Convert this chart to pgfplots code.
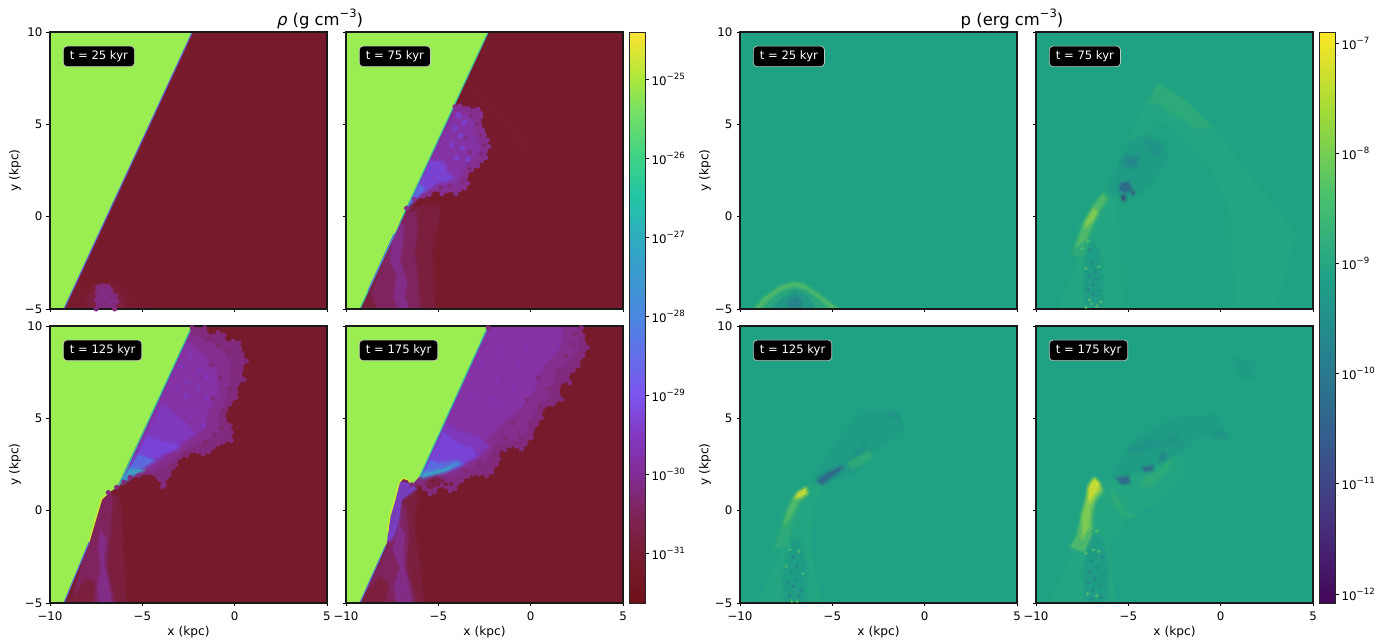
\documentclass[border=0pt]{standalone}
\usepackage{fontspec}
\setmainfont{DejaVu Sans}
\usepackage{pgfplots}
\pgfplotsset{compat=1.18}
\definecolor{rbg}{RGB}{119,27,44}
\definecolor{grn}{RGB}{154,238,82}
\definecolor{rf0}{RGB}{122,28,48}
\definecolor{rf1}{RGB}{125,32,66}
\definecolor{rf2}{RGB}{128,38,100}
\definecolor{pf}{RGB}{130,42,125}
\definecolor{pm}{RGB}{133,47,145}
\definecolor{pb}{RGB}{132,52,170}
\definecolor{vm}{RGB}{127,58,192}
\definecolor{vi}{RGB}{120,70,220}
\definecolor{bl}{RGB}{85,115,225}
\definecolor{te}{RGB}{50,190,170}
\definecolor{tb}{RGB}{58,165,195}
\definecolor{ye}{RGB}{205,235,50}
\definecolor{prb}{RGB}{31,162,131}
\definecolor{p1}{RGB}{35,165,129}
\definecolor{p2}{RGB}{48,172,120}
\definecolor{p3}{RGB}{85,188,105}
\definecolor{p4}{RGB}{135,205,80}
\definecolor{p5}{RGB}{210,222,50}
\definecolor{c0}{RGB}{31,156,133}
\definecolor{c1}{RGB}{32,148,136}
\definecolor{c2}{RGB}{38,130,140}
\definecolor{c3}{RGB}{50,100,140}
\definecolor{c4}{RGB}{62,60,125}
\pgfplotsset{
 colormap={rhomap}{rgb255(0pt)=(112,16,26) rgb255(40pt)=(118,27,44) rgb255(83pt)=(125,35,80) rgb255(129pt)=(130,45,150) rgb255(166pt)=(130,55,190) rgb255(208pt)=(125,85,240) rgb255(287pt)=(75,135,225) rgb255(366pt)=(45,172,190) rgb255(406pt)=(35,197,165) rgb255(445pt)=(60,210,135) rgb255(493pt)=(120,225,100) rgb255(524pt)=(172,232,60) rgb255(560pt)=(235,228,50) rgb255(571pt)=(253,226,55)},
 colormap={pmap}{rgb255=(68,6,88) rgb255=(70,50,126) rgb255=(54,92,141) rgb255=(39,127,142) rgb255=(31,161,135) rgb255=(74,193,109) rgb255=(160,218,57) rgb255=(253,231,37)},
 every tick/.style={black,line width=.8pt},
 basestyle/.style={scale only axis,anchor=south west,axis on top=true,axis line style={line width=1.1pt,color=black!90},
   tick align=outside,major tick length=3.5pt,
   ticklabel style={font=\fontsize{11.8}{13}\selectfont,inner sep=1.5pt},
   label style={font=\fontsize{12.2}{14}\selectfont}},
 panel/.style={basestyle,width=277pt,height=277pt,xmin=-10,xmax=5,ymin=-5,ymax=10,
   xtick={-10,-5,0,5},ytick={-5,0,5,10},xtick pos=bottom,ytick pos=left,enlargelimits=false,clip=true,
   xticklabel style={yshift=-3.5pt},yticklabel style={xshift=-2.5pt}},
 xl/.style={xticklabels={−10,−5,0,5},xlabel={x (kpc)},xlabel style={yshift=-1pt}},
 xn/.style={xticklabels={}},
 yl/.style={yticklabels={−5,0,5,10},ylabel={y (kpc)},ylabel style={yshift=-1pt}},
 yn/.style={yticklabels={}},
 cbarx/.style={basestyle,width=16pt,height=571pt,xmin=0,xmax=1,xtick=\empty,ytick pos=right,yticklabel pos=right,yminorticks=false,enlargelimits=false,yticklabel style={xshift=1.5pt},axis line style={line width=.8pt,color=black!85}},
}
\newcommand{\poly}[2]{\addplot[fill=#1,draw=#1,draw opacity=.45,line width=.8pt,forget plot] coordinates {#2} --cycle;}
\newcommand{\spoly}[2]{\addplot[draw=#1,draw opacity=.16,line width=6pt,line join=round,forget plot] coordinates {#2} --cycle;
 \addplot[draw=#1,draw opacity=.26,line width=3pt,fill=#1,fill opacity=.8,line join=round,forget plot] coordinates {#2} --cycle;}
\newcommand{\bpoly}[2]{\addplot[fill=#1,draw=#1,line width=.8pt,mark=*,mark size=2.1pt,mark options={fill=#1,draw=none},forget plot] coordinates {#2} --cycle;}
\newcommand{\specks}[4]{\addplot[only marks,mark=*,mark size=#2pt,color=#1,mark options={fill=#1,draw=#1,line width=0pt},opacity=#3,forget plot] coordinates {#4};}
\newcommand{\edge}[3]{\addplot[color=#1,line width=#2,forget plot,line join=round] coordinates {#3};}
\newcommand{\tagbox}[1]{\node[fill=black,draw=white!78!black,line width=.7pt,rounded corners=3.5pt,text=white,font=\fontsize{11.6}{13}\selectfont,anchor=west,inner xsep=6.5pt,inner ysep=0pt,minimum height=20.5pt] at (rel axis cs:0.047,0.912) {t = #1 kyr};}
\newcommand{\tp}[1]{10\raisebox{.5em}{\fontsize{8.6}{10}\selectfont −#1}}
\begin{document}
\begin{tikzpicture}
\path[use as bounding box] (0,0) rectangle (1390pt,642pt);
% ---------- density, t = 25
\begin{axis}[panel,xn,yl,at={(50pt,333pt)},axis background/.style={fill=rbg}]
\spoly{rf0}{(-9.2,-5)(-8.5,-4.1)(-7.6,-3.6)(-7,-3.5)(-6.3,-3.6)(-5.4,-4.2)(-4.4,-5)}
\spoly{rf1}{(-8.0,-5)(-7.9,-4.2)(-7.5,-3.8)(-6.7,-3.75)(-6.3,-4.1)(-6.0,-4.6)(-6.0,-5)}
\bpoly{pf}{(-7.5,-5)(-7.5,-4.5)(-7.45,-4.13)(-7.42,-3.85)(-7.3,-3.78)(-7.1,-3.75)(-6.95,-3.8)(-6.85,-3.78)(-6.72,-3.95)(-6.68,-4.13)(-6.45,-4.3)(-6.38,-4.59)(-6.5,-5)}
\specks{pm}{1.6}{.8}{(-7.2,-4.0)(-7,-4.3)(-6.8,-4.1)(-7.2,-4.6)(-6.8,-4.7)(-6.6,-4.5)}
\poly{grn}{(-10,-5)(-9.25,-5)(-2.3,10)(-10,10)}
\edge{rf2}{.9pt}{(-9.2,-5)(-2.25,10)}
\edge{bl}{.9pt}{(-9.25,-5)(-2.3,10)}
\tagbox{25}
\end{axis}
% ---------- density, t = 75
\begin{axis}[panel,xn,yn,at={(346pt,333pt)},axis background/.style={fill=rbg}]
\spoly{rf0}{(-3.4,7.3)(-2.1,6.5)(-.9,5.3)(-.1,4.0)(-.05,3.2)(-.5,3.2)(-.9,4.1)(-1.6,5.2)(-2.5,6.1)(-3.6,6.8)}
\spoly{rf1}{(-7.2,-.2)(-6.72,.46)(-5.64,.64)(-4.9,.5)(-5.0,-.35)(-5.35,-1.61)(-5.3,-3.41)(-5.2,-5)(-9.25,-5)}
\spoly{rf2}{(-7.0,.2)(-6.2,.25)(-6.15,-.8)(-6.3,-1.9)(-6.15,-3.2)(-6.0,-5)(-8.3,-5)(-8.6,-4.2)(-8,-2.6)}
\spoly{pm}{(-7.17,-.17)(-6.9,-.5)(-6.95,-1.5)(-7.1,-2.4)(-6.7,-3.6)(-6.85,-4.3)(-6.6,-5)(-7.15,-5)(-7.4,-4.3)(-7.2,-3.2)(-7.6,-2.4)(-7.5,-1.4)}
\bpoly{pm}{(-4.10,5.95)(-3.83,6.0)(-3.6,5.85)(-3.38,5.85)(-3.05,5.75)(-2.85,5.82)(-2.72,5.6)(-2.7,5.4)(-2.82,5.2)(-2.75,4.97)(-2.6,4.7)(-2.52,4.43)(-2.35,4.15)(-2.28,3.80)(-2.45,3.55)(-2.42,3.2)(-2.65,3.05)(-2.88,2.75)(-3.2,2.55)(-3.5,2.2)(-3.42,1.8)(-3.58,1.55)(-3.85,1.45)(-4.05,1.25)(-4.3,1.45)(-4.55,1.4)(-4.8,1.25)(-5.10,1.48)(-5.5,1.2)(-5.82,1.1)(-6.3,.95)(-6.72,.46)}
\spoly{pb}{(-4.05,5.7)(-3.4,5.4)(-3.1,5.1)(-3.15,4.6)(-2.95,4.2)(-2.75,3.8)(-3.05,3.3)(-3.5,2.85)(-3.8,2.3)(-4.05,1.85)(-4.6,1.7)(-5.2,1.75)(-5.85,1.35)(-6.5,.8)}
\specks{rf2}{1.8}{.5}{(-3.2,5.5)(-2.9,5.0)(-2.7,4.4)(-2.55,3.9)(-2.7,3.4)(-3.3,2.6)(-3.7,1.9)(-4.4,1.7)(-4.9,1.6)(-3.5,4.3)(-3.3,3.5)}
\specks{vi}{2.2}{.55}{(-4.1,4.8)(-3.8,4.4)(-4.3,3.9)(-3.7,3.7)(-4.0,3.2)(-3.6,5.1)(-3.9,5.5)(-3.4,3.1)}
\spoly{vi}{(-5.4,3.0)(-4.7,2.9)(-4.55,2.4)(-4.2,2.1)(-4.6,1.9)(-5.0,1.9)(-5.6,1.45)(-6.2,1.05)(-6.6,.6)}
\spoly{bl}{(-6.0,1.7)(-5.75,1.5)(-6.2,1.05)(-6.72,.48)}
\poly{grn}{(-10,-5)(-9.25,-5)(-2.3,10)(-10,10)}
\edge{te}{1.1pt}{(-9.25,-5)(-2.3,10)}
\edge{bl}{1.1pt}{(-8.8,-4)(-7.4,-.95)}
\edge{ye}{.8pt}{(-7.35,-.8)(-7.0,.1)}
\tagbox{75}
\end{axis}
% ---------- density, t = 125
\begin{axis}[panel,xl,yl,at={(50pt,39pt)},axis background/.style={fill=rbg}]
\spoly{rf1}{(-6.84,.98)(-6.3,.8)(-6.15,.1)(-6.1,-1.2)(-6.0,-2.8)(-5.9,-5)(-9.25,-5)(-8.7,-4.6)}
\spoly{rf2}{(-7.2,1)(-6.6,.7)(-6.75,-1)(-6.95,-3.2)(-6.5,-5)(-7.6,-5)(-7.5,-3.9)(-8.1,-3.6)(-8.7,-4.5)(-8.3,-3.0)(-7.9,-1.7)(-7.5,-.3)}
\spoly{pm}{(-7.25,-1.1)(-7.0,-1.6)(-7.1,-2.8)(-6.8,-4.2)(-6.7,-5)(-7.3,-5)(-7.4,-4.1)(-7.2,-3.1)(-7.35,-2.1)}
\bpoly{pf}{(-2.3,9.9)(-1.62,9.9)(-1.53,9.6)(-1.17,9.45)(-.89,9.65)(-.59,9.5)(-.53,9.14)(-.25,9.05)(-.08,9.18)(.22,9.08)(.27,8.8)(.4,8.5)(.63,8.1)(.36,7.7)(.3,7.5)(.5,7.1)(.14,6.84)(.09,6.42)(.05,6.12)(-.27,5.77)(-.5,5.4)(-.54,4.95)(-.25,4.6)(-.18,4.23)(-.18,3.8)(-.62,3.70)(-.9,3.6)(-1.17,3.43)(-1.4,3.2)(-1.71,3.07)(-2.0,3.2)(-2.25,3.25)(-2.6,3.0)(-2.97,2.89)(-3.2,2.5)(-3.33,2.35)(-3.55,1.95)(-3.69,1.81)(-3.8,1.4)(-3.9,1.3)(-4.05,1.7)(-4.14,1.8)(-4.77,2.05)(-5.2,1.9)(-5.67,1.8)(-6.0,1.55)(-6.39,1.27)(-6.84,.98)}
\spoly{pm}{(-2.4,9.6)(-1.7,9.2)(-1.0,9.0)(-.5,8.5)(-.2,7.9)(-.3,7.0)(-.5,6.0)(-1.0,4.9)(-.8,4.2)(-2.0,3.7)(-2.9,3.1)(-3.6,2.6)(-4.3,2.2)(-5.3,1.95)(-6.0,1.6)}
\spoly{pb}{(-2.6,9.1)(-1.7,8.4)(-1.0,7.6)(-.9,6.4)(-1.5,5.3)(-1.6,4.5)(-2.4,3.9)(-3.4,3.2)(-4.4,2.5)(-5.3,2.1)(-6.0,1.7)}
\specks{rf2}{2.0}{.45}{(-.4,8.6)(-.1,7.7)(-.3,6.6)(-.6,5.4)(-.7,4.5)(-1.6,3.7)(-2.7,3.1)(-3.4,2.4)(-.9,8.9)(-1.4,9.3)(-.8,7.2)(-1.1,4.1)(-1.3,7.9)(-1.2,6.1)}
\specks{vm}{2.2}{.5}{(-2.4,8.4)(-1.9,7.6)(-2.6,7.0)(-2.0,6.6)(-1.5,6.1)(-2.6,6.2)(-2.3,5.2)(-1.7,4.6)(-3.1,6.6)(-2.9,7.8)(-1.5,7.2)}
\spoly{vm}{(-3.9,5.8)(-3.2,5.2)(-2.5,4.6)(-2.2,4.2)(-2.9,3.7)(-3.8,3.1)(-4.5,2.6)(-5.5,2.2)(-6.0,1.7)}
\spoly{vi}{(-4.7,4.0)(-3.9,3.7)(-3.2,3.6)(-3.0,3.4)(-3.9,3.1)(-4.6,2.7)(-5.5,2.3)(-5.9,1.8)}
\spoly{bl}{(-5.2,3.0)(-4.9,2.9)(-4.4,2.7)(-5.3,2.15)(-6.05,1.55)(-6.15,1.6)}
\spoly{tb}{(-5.7,2.25)(-5.3,2.2)(-4.9,2.2)(-5.6,1.9)(-6.1,1.5)}
\poly{grn}{(-10,-5)(-9.25,-5)(-7.84,-1.54)(-7.48,-.28)(-7.21,.62)(-6.84,.98)(-6.39,1.26)(-2.3,10)(-10,10)}
\edge{te}{1.2pt}{(-6.3,1.3)(-2.3,10)}
\edge{bl}{1.1pt}{(-9.25,-5)(-7.84,-1.6)}
\edge{ye}{1.3pt}{(-7.9,-1.7)(-7.48,-.28)(-7.21,.62)(-6.84,.98)}
\tagbox{125}
\end{axis}
% ---------- density, t = 175
\begin{axis}[panel,xl,yn,at={(346pt,39pt)},axis background/.style={fill=rbg}]
\spoly{rf1}{(-6.45,1.4)(-6.1,.7)(-6.3,-.2)(-6.25,-1.2)(-6.0,-3.0)(-5.8,-5)(-9.25,-5)}
\spoly{rf2}{(-9,-4.4)(-8.4,-3.4)(-7.9,-2.4)(-7.6,-1.6)(-7.0,-.2)(-6.8,.3)(-6.6,-1.2)(-6.75,-3.2)(-6.2,-5)(-7.8,-5)(-7.6,-3.9)(-8.2,-3.5)}
\spoly{pm}{(-7.1,-.8)(-6.85,-1.2)(-6.9,-2.8)(-6.6,-4.2)(-6.45,-5)(-7.2,-5)(-7.4,-4.1)(-7.05,-3.1)(-7.45,-2.1)}
\bpoly{pf}{(-2.3,9.9)(2.74,9.9)(2.83,9.46)(3.06,8.83)(2.83,8.38)(2.56,7.84)(2.3,7.6)(2.02,7.39)(2.11,6.93)(1.76,7.02)(1.48,6.57)(1.66,6.03)(1.21,5.77)(.67,5.59)(.57,5.04)(.31,4.69)(.04,3.97)(-.3,3.6)(-.5,3.34)(-.8,3.5)(-1.13,3.52)(-1.4,3.3)(-1.67,3.34)(-1.75,2.8)(-1.85,2.53)(-2.1,2.1)(-2.39,1.9)(-2.8,2.0)(-3.11,1.99)(-3.4,1.85)(-3.74,1.63)(-4.1,1.2)(-4.37,1.09)(-4.6,1.3)(-4.92,1.36)(-5.2,1.0)(-5.46,.9)(-5.75,1.2)(-6.0,1.45)(-6.45,1.4)}
\spoly{pm}{(-2.3,10)(2.5,10)(2.6,8.9)(2.0,8.0)(1.5,7.6)(1.1,6.7)(.9,6.1)(.3,5.5)(-.2,4.4)(-.7,3.8)(-1.9,3.7)(-2.4,2.7)(-3.3,2.3)(-4.3,1.8)(-5.8,1.9)}
\spoly{pb}{(-2.3,10)(1.7,10)(1.6,8.9)(.7,7.9)(.2,6.6)(-.5,5.6)(-1.3,5.0)(-2.2,4.1)(-3.1,3.3)(-4.2,2.5)(-5.8,2.1)}
\specks{rf2}{2.0}{.4}{(2.3,9.0)(1.9,8.4)(1.5,7.6)(1.0,6.6)(.5,5.7)(0,4.7)(-.6,4.0)(-1.4,3.9)(-2.0,3.0)(-2.8,2.6)(-3.6,2.2)(-1.0,4.7)(2.4,9.6)(.4,7.2)(-.2,6.0)}
\specks{vm}{2.2}{.4}{(-1.5,8.6)(-.7,8.0)(-1.8,7.1)(-.9,6.6)(-2.2,6.0)(-1.5,5.6)(-.2,8.9)(-2.7,7.9)(-3.2,6.3)}
\spoly{vm}{(-4.6,4.7)(-3.9,4.3)(-2.9,4.0)(-2.3,3.5)(-2.9,2.9)(-4.3,2.25)(-5.6,1.95)(-5.9,1.9)}
\spoly{vi}{(-4.7,4.2)(-3.9,3.6)(-3.2,3.4)(-3.0,3.0)(-3.5,2.65)(-4.4,2.25)(-5.6,1.95)(-5.9,1.9)}
\spoly{bl}{(-5.4,2.7)(-5.0,2.55)(-3.9,2.7)(-3.7,2.5)(-4.6,2.15)(-5.9,1.88)}
\spoly{tb}{(-5.85,2.0)(-4.7,2.25)(-4.0,2.55)(-4.6,2.15)(-5.85,1.8)}
\spoly{rf1}{(-5.5,1.65)(-5.1,1.8)(-4.7,1.65)(-4.9,1.45)(-5.4,1.25)(-5.65,1.45)}
\specks{rbg}{1.4}{.7}{(-5.3,1.6)(-5.0,1.4)(-4.6,1.45)(-4.3,1.45)(-5.5,1.3)}
\spoly{vi}{(-7.3,1.6)(-6.45,1.45)(-6.2,1.2)(-6.6,.9)(-7.0,.6)(-7.1,-.3)(-7.4,-1.3)(-7.6,-1.6)(-8,-1.8)}
\poly{grn}{(-10,-5)(-9.25,-5)(-7.8,-1.75)(-7.62,-.28)(-7.35,.62)(-7.12,1.53)(-6.9,1.76)(-6.63,1.67)(-6.45,1.40)(-6.0,1.89)(-2.3,10)(-10,10)}
\edge{te}{1.2pt}{(-6.0,1.85)(-2.3,10)}
\edge{bl}{1.1pt}{(-9.25,-5)(-7.85,-1.9)}
\edge{ye}{1.3pt}{(-7.75,-1.2)(-7.62,-.28)(-7.35,.62)(-7.12,1.53)(-6.9,1.76)(-6.63,1.67)(-6.45,1.40)}
\tagbox{175}
\end{axis}
% ---------- density colour bar
\begin{axis}[cbarx,ymode=log,at={(629pt,39pt)},ymin=2.33e-32,ymax=3.94e-25,colormap name=rhomap,
  ytick={1e-31,1e-30,1e-29,1e-28,1e-27,1e-26,1e-25},
  yticklabels={\tp{31},\tp{30},\tp{29},\tp{28},\tp{27},\tp{26},\tp{25}}]
\addplot[patch,patch type=rectangle,shader=interp,point meta=explicit,forget plot] table[meta=m] {
x y m
0 2.33e-32 0
1 2.33e-32 0
1 3.94e-25 1
0 3.94e-25 1
};
\end{axis}
% ---------- pressure, t = 25
\begin{axis}[panel,xn,yl,at={(740pt,333pt)},axis background/.style={fill=prb}]
\spoly{p3}{(-9.2,-5)(-8.7,-4.4)(-7.84,-3.8)(-7.12,-3.58)(-6.57,-3.65)(-5.7,-4.25)(-4.7,-5)}
\spoly{p1}{(-8.85,-5)(-8.35,-4.55)(-7.8,-4.1)(-7.12,-3.88)(-6.5,-3.98)(-5.9,-4.4)(-5.2,-5)}
\spoly{c1}{(-8.25,-5)(-7.85,-4.55)(-7.2,-4.15)(-7,-4.0)(-6.8,-4.15)(-6.35,-4.35)(-5.95,-5)}
\spoly{c2}{(-7.4,-5)(-7.4,-4.6)(-7,-4.35)(-6.7,-4.6)(-6.7,-5)}
\tagbox{25}
\end{axis}
% ---------- pressure, t = 75
\begin{axis}[panel,xn,yn,at={(1036pt,333pt)},axis background/.style={fill=prb}]
\poly{p1}{(-3.38,7.31)(-1.85,6.32)(-.41,4.88)(1.21,2.72)(2.66,.91)(4.1,-.9)(3,-5)(-8.8,-5)(-6.27,1.45)(-4.01,6.32)}
\spoly{prb}{(-3.4,5.2)(-1.8,4.0)(-.6,2.4)(.4,.3)(.7,-4.8)(-5.2,-4.8)(-5.5,1)}
\spoly{p2}{(-3.38,7.2)(-1.95,6.25)(-.6,4.9)(-1.3,4.85)(-2.5,5.6)(-3.4,6.2)(-3.85,6.2)}
\spoly{p1}{(.9,-5)(.9,-.4)(1.3,-.4)(1.6,-5)}
\spoly{c0}{(-6.2,1.45)(-5.3,3.2)(-4.92,4.06)(-4,4.42)(-2.98,3.9)(-2.85,3.2)(-3.9,1.63)(-4.92,1.0)(-5.9,1.27)}
\spoly{c1}{(-5.2,3.4)(-4.4,3.3)(-4.5,2.7)(-5.1,2.5)(-5.45,2.9)}
\spoly{c1}{(-4.1,4.2)(-3.3,3.95)(-3.1,3.5)(-3.6,3.3)(-4.0,3.7)}
\spoly{c2}{(-5.0,3.2)(-4.6,3.1)(-4.7,2.8)(-5.1,2.9)}
\spoly{c3}{(-5.4,1.8)(-5.0,1.85)(-4.85,1.5)(-5.2,1.3)(-5.45,1.5)}
\spoly{c4}{(-5.35,1.1)(-5.2,1.1)(-5.2,.9)(-5.3,.9)}
\spoly{c4}{(-4.8,1.35)(-4.7,1.3)(-4.75,1.25)}
\spoly{c0}{(-6.9,-1.4)(-6.6,-1.9)(-6.4,-3.4)(-6.4,-4.8)(-7.3,-4.8)(-7.4,-3.6)(-7.3,-2.2)}
\specks{c2}{1.5}{.55}{(-7,-2.5)(-6.8,-3)(-7.1,-3.2)(-6.9,-3.7)(-6.7,-3.4)(-7.2,-3.9)(-6.9,-4.2)(-6.6,-4)(-7.1,-1.8)}
\specks{p3}{1.4}{.6}{(-7.3,-4.9)(-7.0,-4.7)(-6.7,-4.85)(-6.5,-4.6)(-7.1,-4.5)(-7.3,-2.8)(-6.6,-2.7)(-7.5,-1.7)(-7.2,-1.3)}
\spoly{p2}{(-6.3,1.3)(-6.9,.55)(-7.5,-.5)(-8.05,-2.0)(-7.5,-2.2)(-7.1,-.9)(-6.6,.2)(-6.1,1.0)}
\spoly{p3}{(-6.4,1.2)(-6.95,.45)(-7.4,-.4)(-7.8,-1.6)(-7.3,-1.2)(-6.95,-.4)(-6.6,.35)(-6.2,.95)}
\spoly{p4}{(-6.85,.4)(-7.3,-.3)(-7.3,-.55)(-6.95,-.2)(-6.7,.2)}
\tagbox{75}
\end{axis}
% ---------- pressure, t = 125
\begin{axis}[panel,xl,yl,at={(740pt,39pt)},axis background/.style={fill=prb}]
\poly{p1}{(-9,-5)(-6.4,1.3)(-4.9,3.1)(-4.7,2.8)(-6.0,.3)(-6.2,-2)(-5.6,-5)}
\spoly{c0}{(-6.1,1.6)(-4.7,3.8)(-3.4,5.4)(-1.45,5.3)(-1.1,4.4)(-2.85,3.15)(-3.9,1.95)(-5.25,1.6)}
\spoly{c1}{(-5.85,1.65)(-5.3,2.15)(-4.4,2.5)(-3.25,3.6)(-3.2,3.3)(-4.2,2.35)(-5.3,1.5)}
\spoly{c3}{(-5.8,1.6)(-5.3,2.0)(-4.5,2.35)(-4.6,2.2)(-5.2,1.75)(-5.55,1.45)}
\spoly{c1}{(-1.9,5.4)(-1.5,5.25)(-1.35,4.9)(-1.8,5.05)}
\spoly{p2}{(-4.2,2.6)(-3.7,2.85)(-3.0,3.2)(-2.8,2.9)(-3.6,2.4)(-4.0,2.35)}
\spoly{c0}{(-7.1,-1.5)(-6.7,-1.7)(-6.4,-3.2)(-6.5,-4.9)(-7.6,-4.9)(-7.7,-3.6)(-7.35,-2.4)}
\specks{c2}{1.5}{.55}{(-7.1,-2.5)(-6.9,-3)(-7.2,-3.3)(-7.4,-3.9)(-7,-3.8)(-6.7,-4.3)(-7.1,-4.1)(-7.3,-4.6)(-6.8,-4.6)}
\specks{p3}{1.3}{.55}{(-7.3,-2.1)(-6.8,-2.2)(-7.5,-3.0)(-6.6,-3.4)(-7.2,-4.9)(-6.9,-4.9)}
\spoly{p2}{(-6.4,1.2)(-7.12,.7)(-7.48,.0)(-7.84,-1.18)(-8.15,-2.0)(-7.5,-1.9)(-7.12,-.46)(-6.75,.55)(-6.25,.9)}
\spoly{p3}{(-6.5,1.1)(-7.1,.65)(-7.4,-.05)(-7.6,-.8)(-7.2,-.2)(-6.85,.5)(-6.3,.95)}
\spoly{p5}{(-6.45,1.2)(-6.85,.98)(-7.0,.72)(-6.7,.75)(-6.42,.95)}
\tagbox{125}
\end{axis}
% ---------- pressure, t = 175
\begin{axis}[panel,xl,yn,at={(1036pt,39pt)},axis background/.style={fill=prb}]
\poly{p1}{(-9.3,-5)(-6.2,1.7)(-4.2,4.0)(-2.2,3.8)(-1.9,2.0)(-3.1,.7)(-5.0,-.4)(-6.0,-1.8)(-5.7,-5)}
\spoly{c0}{(-6.0,1.8)(-4.5,4.0)(-2.5,5.0)(-.3,5.2)(.3,4.0)(-1.3,4.0)(-2.2,3.1)(-4.0,2.3)(-5.3,1.9)}
\spoly{c0}{(.7,8.3)(1.9,8.0)(1.7,7.1)(1.0,7.3)}
\spoly{c1}{(-3.4,3.5)(-2.5,4.2)(-2.1,3.6)(-2.8,3.5)}
\spoly{c1}{(-.4,4.2)(.2,4.3)(.4,4.0)(-.1,3.95)}
\spoly{c1}{(-5.0,3.4)(-3.8,3.9)(-3.2,3.6)(-4.5,3.1)}
\spoly{c3}{(-5.6,1.75)(-5.0,1.85)(-4.95,1.5)(-5.35,1.45)}
\spoly{c3}{(-4.2,2.3)(-3.7,2.4)(-3.7,2.2)(-4.1,2.15)}
\spoly{c2}{(-3.25,3.05)(-3.0,3.1)(-3.0,2.8)(-3.25,2.7)}
\spoly{p2}{(-4.2,1.7)(-3.2,2.2)(-2.7,2.8)(-2.9,2.2)(-3.6,1.5)(-4.2,1.3)}
\spoly{p2}{(-6.0,1.2)(-5.8,.4)(-5.2,-.35)(-4.6,-.3)(-5.2,-.15)(-5.55,.6)}
\spoly{c0}{(-7.0,-1.2)(-6.4,-1.6)(-6.1,-3.2)(-6.2,-4.9)(-7.3,-4.9)(-7.4,-3.6)(-7.3,-2.4)}
\specks{c2}{1.5}{.55}{(-7,-2.7)(-6.7,-3.1)(-7.1,-3.3)(-6.8,-3.7)(-7.2,-3.9)(-6.6,-4)(-6.9,-4.3)(-7,-4.8)(-6.5,-4.7)(-6.4,-2.5)}
\specks{p3}{1.4}{.6}{(-7.3,-2.3)(-6.9,-2.1)(-6.6,-2.2)(-7.4,-1.6)(-6.7,-1.1)(-7,-.9)(-7.2,-4.5)(-6.7,-4.6)}
\spoly{p3}{(-6.5,1.2)(-6.4,1.0)(-6.8,.5)(-6.95,-.2)(-7.0,-1.3)(-7.4,-2.2)(-8.1,-1.95)(-7.75,-1.3)(-7.55,-.3)(-7.25,.9)(-7.0,1.5)}
\spoly{p4}{(-6.55,1.4)(-6.45,1.15)(-6.75,.8)(-7.05,.2)(-7.15,-.9)(-7.5,-1.5)(-7.45,-.2)(-7.15,.9)(-7.05,1.5)(-6.8,1.75)}
\spoly{p5}{(-6.6,1.5)(-6.65,1.2)(-7.0,.7)(-7.1,.5)(-7.15,1.2)(-6.85,1.68)}
\tagbox{175}
\end{axis}
% ---------- pressure colour bar
\begin{axis}[cbarx,ymode=log,at={(1319pt,39pt)},ymin=8.3e-13,ymax=1.26e-7,colormap name=pmap,
  ytick={1e-12,1e-11,1e-10,1e-9,1e-8,1e-7},
  yticklabels={\tp{12},\tp{11},\tp{10},\tp{9},\tp{8},\tp{7}}]
\addplot[patch,patch type=rectangle,shader=interp,point meta=explicit,forget plot] table[meta=m] {
x y m
0 8.3e-13 0
1 8.3e-13 0
1 1.26e-7 1
0 1.26e-7 1
};
\end{axis}
\node[font=\fontsize{16.4}{18}\selectfont] at (320pt,623pt) {{\itshape ρ} (g cm\raisebox{.5em}{\fontsize{11.5}{12}\selectfont −3})};
\node[font=\fontsize{16.4}{18}\selectfont] at (1012pt,623pt) {p (erg cm\raisebox{.5em}{\fontsize{11.5}{12}\selectfont −3})};
\end{tikzpicture}
\end{document}
